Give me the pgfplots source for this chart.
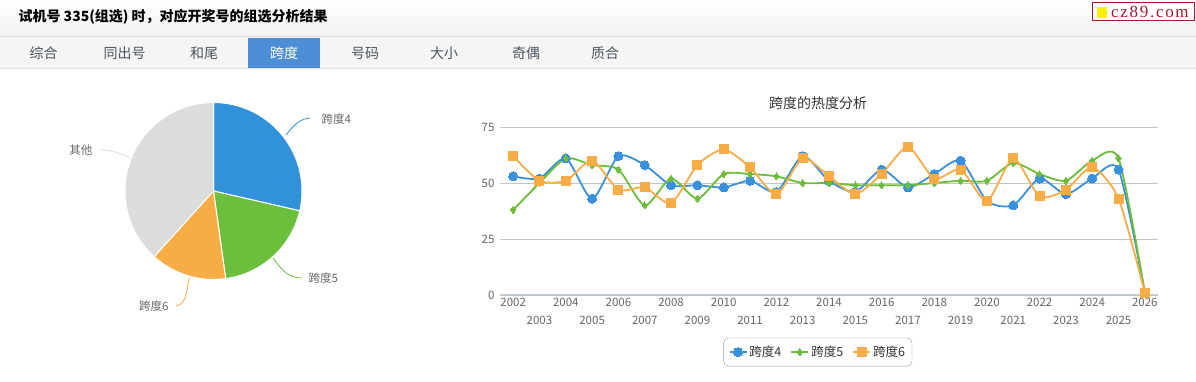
\documentclass[border=0pt]{standalone}
\usepackage{pgfplots}
\pgfplotsset{compat=1.18}
\usepackage{pgfplotstable}
\usepackage{fontspec}
\setmainfont{Noto Sans CJK SC}
\newfontfamily\wmfont{Liberation Serif}[LetterSpace=10]
\newcommand\fs[1]{\fontsize{#1}{#1}\selectfont}
\definecolor{cBlue}{HTML}{3A91DB}
\definecolor{cGreen}{HTML}{6BBD3A}
\definecolor{cOrange}{HTML}{F7AC45}
\definecolor{pBlue}{HTML}{3192DB}
\definecolor{pGreen}{HTML}{6CBF3C}
\definecolor{pOrange}{HTML}{F6AD46}
\definecolor{pGray}{HTML}{DCDCDC}
\definecolor{tabBlue}{HTML}{4D8FD6}
\definecolor{tabText}{HTML}{4A5560}
\definecolor{labGray}{HTML}{666666}
\definecolor{gridGray}{HTML}{C4C4C4}
\definecolor{axisLine}{HTML}{C0D0E0}
\definecolor{wmRed}{HTML}{9E1A2E}
\pgfplotstableread{
idx s4 s5 s6
0 53 38 62
1 52 50 51
2 61 61 51
3 43 58 60
4 62 56 47
5 58 40 48
6 49 52 41
7 49 43 58
8 48 54 65
9 51 54 57
10 46 53 45
11 62 50 61
12 51 50 53
13 46 49 45
14 56 49 54
15 48 49 66
16 54 50 52
17 60 51 56
18 42 51 42
19 40 59 61
20 52 54 44
21 45 51 47
22 52 60 57
23 56 61 43
24 1 1 1
}\spandata
% pie shares (percent)
\def\pA{28.6}\def\pB{19.2}\def\pC{13.9}\def\pD{38.3}
\begin{document}
\begin{tikzpicture}[x=1pt,y=1pt]
\useasboundingbox (0,0) rectangle (1196,382);
\fill[white] (0,0) rectangle (1196,382);
% title bar
\shade[top color=white, bottom color=black!5] (0,346) rectangle (1196,382);
\draw[black!13] (0,345.5) -- (1196,345.5);
\node[anchor=west, font=\fs{14}\bfseries, text=black] at (15,365) {试机号 335(组选) 时，对应开奖号的组选分析结果};
% watermark
\draw[wmRed, fill=white, line width=1pt] (1092,361) rectangle (1194,379);
\fill[yellow] (1097,364) rectangle (1107,375);
\node[anchor=west, font=\wmfont\fs{17}, text=wmRed, inner sep=0pt] at (1111,370) {cz89.com};
% tab bar
\fill[black!4] (0,314) rectangle (1196,345);
\draw[black!12] (0,314) -- (1196,314);
\fill[tabBlue] (248,314) rectangle (320,344);
\foreach \x/\t in {43.5/综合,124.5/同出号,204/和尾,365/号码,444/大小,526/奇偶,605/质合}
  \node[font=\fs{14}, text=tabText] at (\x,328.5) {\t};
\node[font=\fs{14}, text=white] at (284,328.5) {跨度};
% pie chart
\pgfmathsetmacro\aA{90}
\pgfmathsetmacro\aB{90-3.6*\pA}
\pgfmathsetmacro\aC{\aB-3.6*\pB}
\pgfmathsetmacro\aD{\aC-3.6*\pC}
\pgfmathsetmacro\aE{\aD-3.6*\pD}
\begin{axis}[at={(213.5pt,191pt)}, anchor=center, scale only axis,
  width=178pt, height=178pt, xmin=-1, xmax=1, ymin=-1, ymax=1,
  hide axis, clip=false]
\filldraw[pBlue, draw=white, line width=1pt] (axis cs:0,0) -- ++(\aA:88.5pt) arc[start angle=\aA, end angle=\aB, radius=88.5pt] -- cycle;
\filldraw[pGreen, draw=white, line width=1pt] (axis cs:0,0) -- ++(\aB:88.5pt) arc[start angle=\aB, end angle=\aC, radius=88.5pt] -- cycle;
\filldraw[pOrange, draw=white, line width=1pt] (axis cs:0,0) -- ++(\aC:88.5pt) arc[start angle=\aC, end angle=\aD, radius=88.5pt] -- cycle;
\filldraw[pGray, draw=white, line width=1pt] (axis cs:0,0) -- ++(\aD:88.5pt) arc[start angle=\aD, end angle=\aE, radius=88.5pt] -- cycle;
\end{axis}
% pie labels
\draw[pBlue, line width=0.8pt] (286,247) .. controls (295,258) and (300,263) .. (310,264);
\node[anchor=west, font=\fs{11.5}, text=labGray] at (318,263) {跨度4};
\draw[pGreen, line width=0.8pt] (273,124) .. controls (282,112) and (288,104) .. (302,104);
\node[anchor=west, font=\fs{11.5}, text=labGray] at (305,104) {跨度5};
\draw[pOrange, line width=0.8pt] (189,104) .. controls (187,90) and (186,78) .. (176,76);
\node[anchor=east, font=\fs{11.5}, text=labGray] at (172,76) {跨度6};
\draw[pGray, line width=0.8pt] (130,224) .. controls (120,229) and (112,232) .. (99,232);
\node[anchor=east, font=\fs{11.5}, text=labGray] at (96,232) {其他};
% line chart title
\node[font=\fs{14}, text=black!80] at (818,279) {跨度的热度分析};
\begin{axis}[at={(500pt,87pt)}, anchor=south west, scale only axis,
  width=658pt, height=168pt,
  xmin=-0.5, xmax=24.5, ymin=0, ymax=75,
  ytick={0,25,50,75},
  xtick={0,2,...,24},
  xticklabels={2002,2004,2006,2008,2010,2012,2014,2016,2018,2020,2022,2024,2026},
  extra x ticks={1,3,...,23},
  extra x tick labels={2003,2005,2007,2009,2011,2013,2015,2017,2019,2021,2023,2025},
  extra x tick style={major tick length=0pt, tick label style={yshift=-18pt}},
  minor xtick={-0.5,0.5,...,24.5},
  major tick length=0pt, minor tick length=5pt,
  tick align=outside,
  minor tick style={draw=axisLine, line width=0.8pt},
  ymajorgrids, grid style={gridGray, line width=0.8pt},
  axis x line*=bottom, axis y line*=left,
  y axis line style={draw=none},
  x axis line style={draw=axisLine, line width=1pt},
  ytick style={draw=none},
  xtick style={draw=none},
  tick label style={font=\fs{11.5}, text=labGray},
  yticklabel style={xshift=-2pt},
  /pgf/number format/assume math mode=true,
  clip=false,
  legend style={at={(0.483,-0.255)}, anchor=north, legend columns=-1,
    draw=black!40, rounded corners=5pt, font=\fs{12.5}, text=black!80,
    inner xsep=5pt, inner ysep=6pt,
    /tikz/every even column/.append style={column sep=7pt}},
  every axis plot/.append style={line width=1.8pt, smooth, tension=0.42},
]
\addplot[cBlue, mark=*, mark size=4.5pt, mark options={solid, draw=cBlue, fill=cBlue, line width=0pt}] table[x=idx, y=s4] {\spandata};
\addlegendentry{跨度4}
\addplot[cGreen, mark=diamond*, mark size=3.5pt, mark options={solid, draw=cGreen, fill=cGreen, line width=0pt}] table[x=idx, y=s5] {\spandata};
\addlegendentry{跨度5}
\addplot[cOrange, mark=square*, mark size=4.5pt, mark options={solid, draw=cOrange, fill=cOrange, line width=0pt}] table[x=idx, y=s6] {\spandata};
\addlegendentry{跨度6}
\end{axis}
\end{tikzpicture}
\end{document}
